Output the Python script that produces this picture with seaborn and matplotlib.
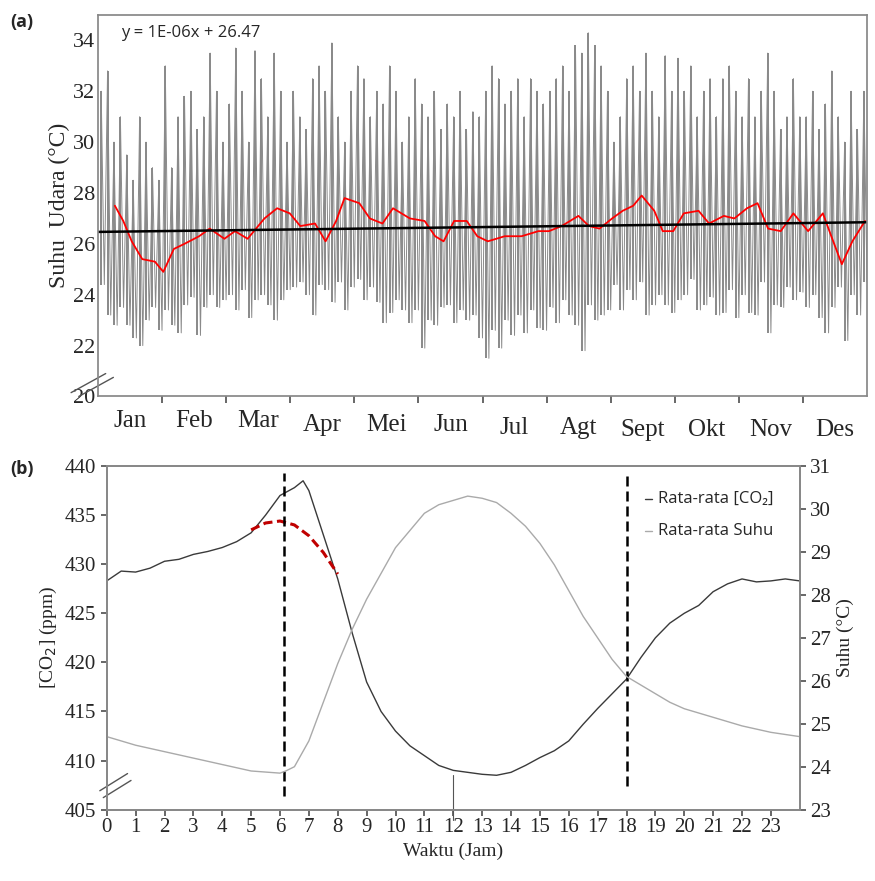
import matplotlib
matplotlib.use("Agg")
import matplotlib.pyplot as plt
import seaborn as sns
import numpy as np
import pandas as pd

sns.set_theme(style="white")
plt.rcParams['font.family'] = ['Liberation Serif', 'DejaVu Sans']

months = ["Jan", "Feb", "Mar", "Apr", "Mei", "Jun", "Jul", "Agt", "Sept", "Okt", "Nov", "Des"]

# ---- panel (a): daily max / min temperature (10 samples per month)
t_max = [32, 32.8, 30, 31, 29.5, 28.5, 31, 30, 29, 28.5,
         33, 29, 31, 31.8, 32, 30.5, 31, 33.5, 32, 30,
         31.5, 33.7, 32, 30, 33.6, 32.5, 31, 33.5, 32, 30,
         32, 31, 30.5, 32.5, 33, 32, 33.9, 31, 30, 32,
         33, 32.5, 31, 32, 31.5, 33, 32, 30, 31, 32.5,
         31.5, 31, 32, 30.5, 31.5, 31, 32, 30.5, 31.2, 31,
         32, 33, 32.5, 31.5, 32, 32.5, 31, 32.5, 32, 31.5,
         32, 32.5, 33, 32, 33.8, 33.5, 34.3, 33.8, 33, 32,
         30, 31, 32.5, 33, 32, 33.5, 32, 31, 33.4, 32,
         33.3, 32, 33, 31, 32, 32.5, 31, 32.5, 33, 32,
         31, 32.5, 31, 32, 33.5, 32, 30.5, 31, 32.5, 31,
         31, 32, 30.5, 31.5, 32.8, 31, 30, 32, 30.5, 32]
t_min = [24.4, 23.2, 22.8, 23.5, 22.8, 22.3, 22.0, 23.0, 23.5, 22.6,
         23.4, 22.8, 22.5, 23.6, 23.9, 22.4, 23.5, 24.0, 23.5, 23.8,
         24.0, 23.4, 24.2, 23.1, 23.8, 24.0, 23.6, 23.0, 23.8, 24.2,
         24.3, 24.5, 24.0, 23.2, 24.4, 24.2, 23.7, 24.5, 23.4, 24.3,
         24.6, 23.8, 24.3, 23.7, 22.9, 23.3, 23.8, 23.4, 22.9, 23.4,
         21.9, 23.0, 22.8, 23.5, 23.6, 22.9, 23.4, 23.0, 23.2, 22.3,
         21.5, 22.6, 21.9, 23.0, 22.4, 23.2, 22.5, 23.4, 22.7, 22.6,
         23.5, 22.9, 23.8, 23.2, 22.8, 21.8, 23.6, 23.0, 23.2, 23.4,
         24.4, 23.4, 24.2, 23.8, 24.5, 23.2, 23.6, 24.0, 23.6, 23.3,
         23.8, 24.0, 24.6, 23.4, 23.6, 23.9, 23.2, 23.3, 24.2, 23.1,
         24.0, 23.3, 23.2, 24.5, 22.5, 23.6, 23.5, 24.3, 23.8, 24.1,
         23.5, 24.0, 23.1, 22.5, 23.5, 24.3, 22.2, 24.0, 23.2, 24.5]

# moving average (red)
ma_day = [8, 12, 16, 21, 27, 31, 36, 41, 48, 53, 60, 65, 71, 79, 85, 91, 96, 103, 108, 113,
          117, 124, 129, 135, 140, 148, 155, 160, 164, 169, 175, 180, 185, 193, 201, 209, 214,
          220, 228, 233, 238, 244, 249, 254, 258, 264, 268, 273, 278, 285, 290, 297, 302, 308,
          313, 318, 324, 330, 337, 344, 348, 353, 358, 364]
ma_val = [27.5, 26.9, 26.1, 25.4, 25.3, 24.9, 25.8, 26.0, 26.3, 26.6, 26.2, 26.5, 26.2, 27.0,
          27.4, 27.2, 26.7, 26.8, 26.1, 26.9, 27.8, 27.6, 27.0, 26.8, 27.4, 27.0, 26.9, 26.3,
          26.1, 26.9, 26.9, 26.3, 26.1, 26.3, 26.3, 26.5, 26.5, 26.7, 27.1, 26.7, 26.6, 27.0,
          27.3, 27.5, 27.9, 27.3, 26.5, 26.5, 27.2, 27.3, 26.8, 27.1, 27.0, 27.4, 27.6, 26.6,
          26.5, 27.2, 26.5, 27.2, 26.3, 25.2, 26.1, 26.9]

trend_day = [0, 365]
trend_val = [26.47, 26.85]

# ---- panel (b)
hours_co2 = [0, 0.5, 1, 1.5, 2, 2.5, 3, 3.5, 4, 4.5, 5, 5.5, 6, 6.5, 6.8, 7, 7.5, 8, 8.5, 9, 9.5, 10,
             10.5, 11, 11.5, 12, 12.5, 13, 13.5, 14, 14.5, 15, 15.5, 16, 16.5, 17, 17.5, 18, 18.5, 19,
             19.5, 20, 20.5, 21, 21.5, 22, 22.5, 23, 23.5, 24]
co2 = [428.3, 429.3, 429.2, 429.6, 430.3, 430.5, 431.0, 431.3, 431.7, 432.3, 433.2, 435.0, 437.0, 437.8,
       438.5, 437.5, 433.0, 428.5, 423.0, 418.0, 415.0, 413.0, 411.5, 410.5, 409.5, 409.0, 408.8, 408.6,
       408.5, 408.8, 409.5, 410.3, 411.0, 412.0, 413.7, 415.3, 416.8, 418.3, 420.5, 422.5, 424.0, 425.0,
       425.8, 427.2, 428.0, 428.5, 428.2, 428.3, 428.5, 428.3]
hours_t = [0, 1, 2, 3, 4, 5, 6, 6.2, 6.5, 7, 7.5, 8, 8.5, 9, 9.5, 10, 10.5, 11, 11.5, 12, 12.5, 13,
           13.5, 14, 14.5, 15, 15.5, 16, 16.5, 17, 17.5, 18, 18.5, 19, 19.5, 20, 21, 22, 23, 24]
temp = [24.7, 24.5, 24.35, 24.2, 24.05, 23.9, 23.85, 23.9, 24.0, 24.6, 25.5, 26.4, 27.2, 27.9, 28.5,
        29.1, 29.5, 29.9, 30.1, 30.2, 30.3, 30.25, 30.15, 29.9, 29.6, 29.2, 28.7, 28.1, 27.5, 27.0,
        26.5, 26.1, 25.9, 25.7, 25.5, 25.35, 25.15, 24.95, 24.8, 24.7]
red_h = [5, 5.5, 6, 6.5, 7, 7.5, 8]
red_co2 = [433.5, 434.2, 434.4, 434.0, 432.9, 431.2, 429.0]

fig = plt.figure(figsize=(8.75, 8.81), dpi=100)
axa = fig.add_axes([0.112, 0.55, 0.879, 0.433])
axb = fig.add_axes([0.122, 0.081, 0.792, 0.39])

# (a)
n = len(t_max)
days = np.arange(n) * 365 / n + 1.5
dfz = pd.DataFrame({"day": days, "hi": t_max, "lo": t_min})
axa.vlines(dfz["day"], dfz["lo"], dfz["hi"], color="#6a6a6a", lw=1.1)
zig_x = np.repeat(days, 2) + np.tile([0, 1.5], n)
zig_y = np.ravel(np.column_stack([t_max, t_min]))
axa.plot(zig_x, zig_y, color="#8a8a8a", lw=0.7)
sns.lineplot(x=ma_day, y=ma_val, ax=axa, color="red", lw=1.3)
sns.lineplot(x=trend_day, y=trend_val, ax=axa, color="black", lw=1.8)
axa.set_xlim(0, 365)
axa.set_ylim(20, 35)
axa.set_yticks(range(20, 35, 2))
axa.tick_params(axis="y", labelsize=16, length=0, pad=2)
axa.set_ylabel("Suhu  Udara (°C)", fontsize=17, labelpad=2)
bounds = np.linspace(0, 365, 13)
axa.set_xticks(bounds[1:-1])
axa.set_xticklabels([])
axa.tick_params(axis="x", length=5, direction="out", color="#555555", bottom=True)
for i, m in enumerate(months):
    off = [0, 0, 0, -0.01, -0.01, -0.01, -0.02, -0.02, -0.025, -0.025, -0.025, -0.025][i]
    axa.text((bounds[i] + bounds[i + 1]) / 2, -0.035 + off, m, transform=axa.get_xaxis_transform(),
             ha="center", va="top", fontsize=18)
axa.text(0.03, 0.975, "y = 1E-06x + 26.47", transform=axa.transAxes, fontsize=12,
         ha="left", va="top", family=["Open Sans", "DejaVu Sans"])
for s in axa.spines.values():
    s.set_color("#888888")
axa.plot([-0.035, 0.01], [0.01, 0.06], transform=axa.transAxes, color="#555555", lw=1, clip_on=False)
axa.plot([-0.025, 0.02], [0.00, 0.05], transform=axa.transAxes, color="#555555", lw=1, clip_on=False)
fig.text(0.012, 0.985, "(a)", fontsize=13, weight="bold", family=["Open Sans", "DejaVu Sans"], va="top")

# (b)
sns.lineplot(x=hours_co2, y=co2, ax=axb, color="#3a3a3a", lw=1.0)
sns.lineplot(x=red_h, y=red_co2, ax=axb, color="#c00000", lw=2.2, linestyle=(0, (3, 1.5)))
axb.axvline(6.15, ymin=0.04, ymax=0.98, color="black", ls=(0, (4, 2)), lw=1.8)
axb.axvline(18.0, ymin=0.07, ymax=0.985, color="black", ls=(0, (4, 2)), lw=1.8)
axb.set_xlim(0, 24)
axb.set_ylim(405, 440)
axb.set_yticks(range(405, 441, 5))
axb.set_xticks(range(0, 24))
axb.tick_params(axis="both", labelsize=15, length=4, direction="out", left=True, bottom=True, color="#555555")
axb.tick_params(axis="x", pad=2)
axb.set_xlabel("Waktu (Jam)", fontsize=14)
axb.set_ylabel("[CO$_2$] (ppm)", fontsize=14)
axr = axb.twinx()
sns.lineplot(x=hours_t, y=temp, ax=axr, color="#aaaaaa", lw=1.0)
axr.set_ylim(23, 31)
axr.set_yticks(range(23, 32))
axr.tick_params(axis="y", labelsize=15, length=4, direction="out", right=True, color="#555555")
axr.set_ylabel("Suhu (°C)", fontsize=14)
for ax in (axb, axr):
    for k, s in ax.spines.items():
        s.set_color("#888888")
axb.plot([0.5, 0.5], [-0.03, 0.1], transform=axb.transAxes, color="#555555", lw=0.8, clip_on=False)
axb.plot([-0.01, 0.03], [0.055, 0.105], transform=axb.transAxes, color="#555555", lw=1, clip_on=False)
axb.plot([-0.005, 0.035], [0.035, 0.085], transform=axb.transAxes, color="#555555", lw=1, clip_on=False)
lf = ["Open Sans", "DejaVu Sans"]
axb.plot([0.777, 0.787], [0.905, 0.905], transform=axb.transAxes, color="#3a3a3a", lw=1)
axb.text(0.795, 0.905, "Rata-rata [CO₂]", transform=axb.transAxes, fontsize=12, va="center", family=lf)
axb.plot([0.777, 0.787], [0.81, 0.81], transform=axb.transAxes, color="#aaaaaa", lw=1)
axb.text(0.795, 0.81, "Rata-rata Suhu", transform=axb.transAxes, fontsize=12, va="center", family=lf)
fig.text(0.012, 0.478, "(b)", fontsize=13, weight="bold", family=lf, va="top")

fig.savefig("out.png", dpi=100)
